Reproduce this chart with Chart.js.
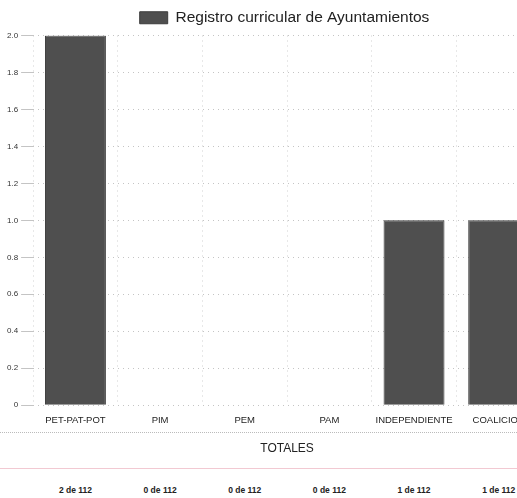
<!DOCTYPE html>
<html>
<head>
<meta charset="utf-8">
<script src="https://cdn.jsdelivr.net/npm/chart.js@4/dist/chart.umd.min.js"></script>
<style>
  html, body { margin: 0; padding: 0; background: #fff; overflow: hidden; }
  body { width: 517px; height: 498px; position: relative; font-family: "Liberation Sans", Arial, sans-serif; }
  #wrap { position: absolute; left: 0; top: 0; width: 551px; height: 456px; }
  #dots { position: absolute; left: 0; top: 432px; width: 517px; border-top: 1px dotted #bbb; }
  #sep { position: absolute; left: 0; top: 468px; width: 517px; border-top: 1px solid #f2c9d2; }
  #totals { position: absolute; left: 0; top: 485px; width: 551px; height: 14px; }
  #totals span { position: absolute; transform: translateX(-50%); font-size: 8.5px; font-weight: bold; color: #222; white-space: nowrap; }
</style>
</head>
<body>
<div id="wrap"><canvas id="chart"></canvas></div>
<div id="dots"></div>
<div id="sep"></div>
<div id="totals"></div>
<script>
const categories = ['PET-PAT-POT', 'PIM', 'PEM', 'PAM', 'INDEPENDIENTE', 'COALICION'];
const registros = [2, 0, 0, 0, 1, 1];
const totalAyuntamientos = 112;
const seriesLabel = 'Registro curricular de Ayuntamientos';
const xTitle = 'TOTALES';

// nudge the legend a bit right, the original is centred on the visible part
const legendShift = {
  id: 'legendShift',
  afterLayout(c) {
    if (c.legend) {
      c.legend.left += 12;
      c.legend.right += 12;
    }
  }
};

const chart = new Chart(document.getElementById('chart'), {
  type: 'bar',
  data: {
    labels: categories,
    datasets: [{
      label: seriesLabel,
      data: registros,
      backgroundColor: '#4f4f4f',
      borderColor: '#3c3c3c',
      borderWidth: 1,
      barPercentage: 0.72,
      categoryPercentage: 1
    }]
  },
  options: {
    responsive: true,
    maintainAspectRatio: false,
    animation: false,
    layout: { padding: { left: 4, right: 10, top: 2, bottom: 0 } },
    plugins: {
      legend: {
        display: true,
        labels: {
          boxWidth: 28,
          boxHeight: 12,
          color: '#222',
          font: { family: 'Liberation Sans', size: 15.5 },
          padding: 8
        }
      },
      tooltip: { enabled: false }
    },
    scales: {
      x: {
        grid: { color: '#d0d0d0', lineWidth: 1, drawTicks: false },
        border: { display: false, dash: [1, 4] },
        ticks: { color: '#222', font: { family: 'Liberation Sans', size: 9.5 }, padding: 9, maxRotation: 0, autoSkip: false },
        title: { display: true, text: xTitle, color: '#222', font: { family: 'Liberation Sans', size: 12 }, padding: { top: 7, bottom: 0 } }
      },
      y: {
        min: 0,
        max: 2,
        grid: { color: '#c4c4c4', lineWidth: 1, drawTicks: true, tickLength: 12 },
        border: { display: false, dash: [1, 4] },
        ticks: {
          stepSize: 0.2,
          color: '#333',
          font: { family: 'Liberation Sans', size: 8 },
          padding: 3,
          callback: v => v === 0 ? '0' : v.toFixed(1)
        }
      }
    }
  },
  plugins: [legendShift]
});

// totals row under each category
const totalsEl = document.getElementById('totals');
const xScale = chart.scales.x;
registros.forEach((v, i) => {
  const s = document.createElement('span');
  s.textContent = `${v} de ${totalAyuntamientos}`;
  s.style.left = xScale.getPixelForValue(i) + 'px';
  totalsEl.appendChild(s);
});
</script>
</body>
</html>
